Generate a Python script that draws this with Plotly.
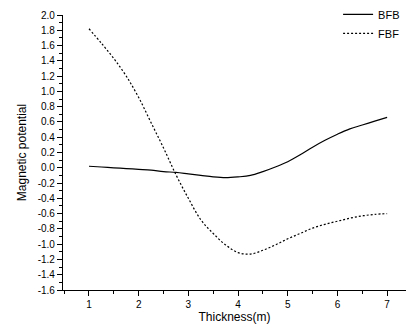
import plotly.graph_objects as go

thickness = [1, 1.25, 1.5, 1.75, 2, 2.25, 2.5, 2.75, 3, 3.25, 3.5, 3.75, 4, 4.25,
             4.5, 4.75, 5, 5.25, 5.5, 5.75, 6, 6.25, 6.5, 6.75, 7]
bfb = [0.02, 0.01, 0.00, -0.01, -0.02, -0.03, -0.05, -0.06, -0.08, -0.10, -0.12,
       -0.13, -0.12, -0.10, -0.05, 0.01, 0.08, 0.17, 0.27, 0.36, 0.44, 0.51, 0.56,
       0.61, 0.66]
fbf = [1.82, 1.63, 1.43, 1.20, 0.92, 0.59, 0.26, -0.09, -0.40, -0.68, -0.86, -1.01,
       -1.11, -1.13, -1.08, -1.01, -0.93, -0.86, -0.79, -0.74, -0.70, -0.66, -0.63,
       -0.61, -0.60]
y_ticks = [round(-1.6 + 0.2 * i, 1) for i in range(19)]
y_labels = [f"{v:.1f}" for v in y_ticks]

fig = go.Figure()
fig.add_trace(go.Scatter(x=thickness, y=bfb, name="BFB", mode="lines",
                         line=dict(color="black", width=1.2, shape="spline")))
fig.add_trace(go.Scatter(x=thickness, y=fbf, name="FBF", mode="lines",
                         line=dict(color="black", width=1.2, shape="spline", dash="2px,2px")))

fig.update_layout(
    width=406, height=333,
    margin=dict(l=63, r=0, t=15, b=43, autoexpand=False),
    paper_bgcolor="white", plot_bgcolor="white",
    font=dict(family="Liberation Sans, Arial, sans-serif", size=10, color="black"),
    legend=dict(x=0.802, xanchor="left", y=1.055, yanchor="top",
                bgcolor="rgba(0,0,0,0)", font=dict(size=11),
                itemwidth=30, tracegroupgap=0),
    showlegend=True,
)
fig.update_xaxes(
    range=[0.477, 7.38], tickmode="array", tickvals=[1, 2, 3, 4, 5, 6, 7],
    ticks="outside", ticklen=5, tickwidth=1, tickcolor="black",
    minor=dict(tickmode="array", tickvals=[0.5, 1.5, 2.5, 3.5, 4.5, 5.5, 6.5],
               ticks="outside", ticklen=3, tickcolor="black"),
    showline=True, linecolor="black", linewidth=1.2,
    showgrid=False, zeroline=False,
    title=dict(text="Thickness(m)", font=dict(size=12), standoff=3),
)
fig.update_yaxes(
    range=[-1.6, 2.0], tickmode="array", tickvals=y_ticks, ticktext=y_labels,
    ticks="outside", ticklen=5, tickwidth=1, tickcolor="black",
    minor=dict(dtick=0.1, ticks="outside", ticklen=3, tickcolor="black"),
    showline=True, linecolor="black", linewidth=1.2,
    showgrid=False, zeroline=False,
    title=dict(text="Magnetic potential", font=dict(size=12), standoff=8),
)

fig.write_html("out.html", config={"displayModeBar": False},
               post_script="document.body.style.margin='0';")
